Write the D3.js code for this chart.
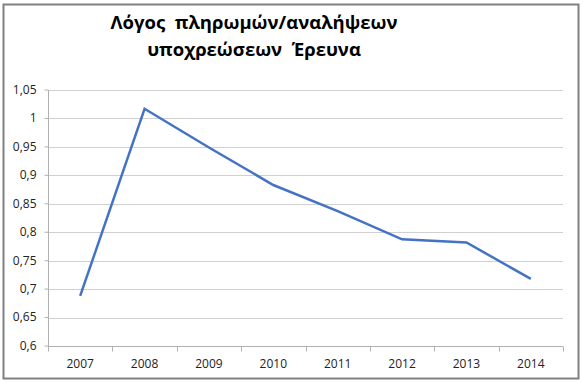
<!DOCTYPE html>
<html>
  <head>
    <meta charset="utf-8">
    <title>Λόγος πληρωμών/αναλήψεων υποχρεώσεων Έρευνα</title>
    <style>
      body { margin: 0; background: white; }
      .grid line { stroke: #d0d0d0; stroke-width: 1px; }
      .axis path, .axis line { stroke: #b0b0b0; stroke-width: 1px; }
      .axis text { font-family: "Open Sans", sans-serif; font-size: 12px; fill: #222; }
      .title { font-family: "Open Sans", sans-serif; font-weight: bold; font-size: 18.5px; fill: #000; white-space: pre; }
      .series { fill: none; stroke: #4472c4; stroke-width: 2.5px; }
    </style>
  </head>
  <body>
    <script src="https://d3js.org/d3.v7.min.js"></script>
    <script>
      const years = ["2007", "2008", "2009", "2010", "2011", "2012", "2013", "2014"];
      const ratio = [0.688, 1.017, 0.949, 0.883, 0.837, 0.7875, 0.782, 0.718];
      const yTicks = [0.6, 0.65, 0.7, 0.75, 0.8, 0.85, 0.9, 0.95, 1, 1.05];
      const titleLines = ["Λόγος  πληρωμών/αναλήψεων", "υποχρεώσεων  Έρευνα"];

      const width = 583;
      const height = 383;
      const margin = { top: 90, right: 20, bottom: 37, left: 48 };

      const svg = d3.select("body")
        .append("svg")
        .attr("width", width)
        .attr("height", height);

      // chart border
      svg.append("rect")
        .attr("x", 3.5)
        .attr("y", 4.5)
        .attr("width", 575)
        .attr("height", 374)
        .attr("fill", "white")
        .attr("stroke", "#808080")
        .attr("stroke-width", 2);

      const x = d3.scaleBand()
        .domain(years)
        .range([margin.left, width - margin.right]);

      const y = d3.scaleLinear()
        .domain([0.6, 1.05])
        .range([height - margin.bottom, margin.top]);

      const fmt = d => d3.format("")(d).replace(".", ",");

      // gridlines
      svg.append("g")
        .attr("class", "grid")
        .selectAll("line")
        .data(yTicks.slice(1))
        .enter()
        .append("line")
        .attr("x1", margin.left)
        .attr("x2", width - margin.right)
        .attr("y1", d => Math.round(y(d)) + 0.5)
        .attr("y2", d => Math.round(y(d)) + 0.5);

      const yAxis = svg.append("g")
        .attr("class", "axis")
        .attr("transform", `translate(${margin.left + 0.5},0)`)
        .call(d3.axisLeft(y).tickValues(yTicks).tickFormat(fmt).tickSize(4).tickSizeOuter(0).offset(0));
      yAxis.selectAll("text").attr("x", -12);

      // x axis with ticks at category boundaries
      const xAxis = svg.append("g")
        .attr("class", "axis")
        .attr("transform", `translate(0,${Math.round(y(0.6)) + 0.5})`)
        .call(d3.axisBottom(x).tickSize(0).tickSizeOuter(0).offset(0));
      xAxis.selectAll("text").attr("y", 0).attr("dy", 0).attr("transform", "translate(0,21)");
      xAxis.selectAll(".boundary")
        .data(years.concat(["end"]))
        .enter()
        .append("line")
        .attr("class", "boundary")
        .attr("x1", (d, i) => Math.round(margin.left + i * x.step()) + 0.5)
        .attr("x2", (d, i) => Math.round(margin.left + i * x.step()) + 0.5)
        .attr("y1", 0)
        .attr("y2", 5);

      const line = d3.line()
        .x((d, i) => x(years[i]) + x.bandwidth() / 2)
        .y(d => y(d));

      svg.append("path")
        .datum(ratio)
        .attr("class", "series")
        .attr("d", line);

      svg.append("g")
        .selectAll("text")
        .data(titleLines)
        .enter()
        .append("text")
        .attr("class", "title")
        .attr("x", 254)
        .attr("y", (d, i) => 29 + i * 27)
        .attr("text-anchor", "middle")
        .text(d => d);
    </script>
  </body>
</html>
